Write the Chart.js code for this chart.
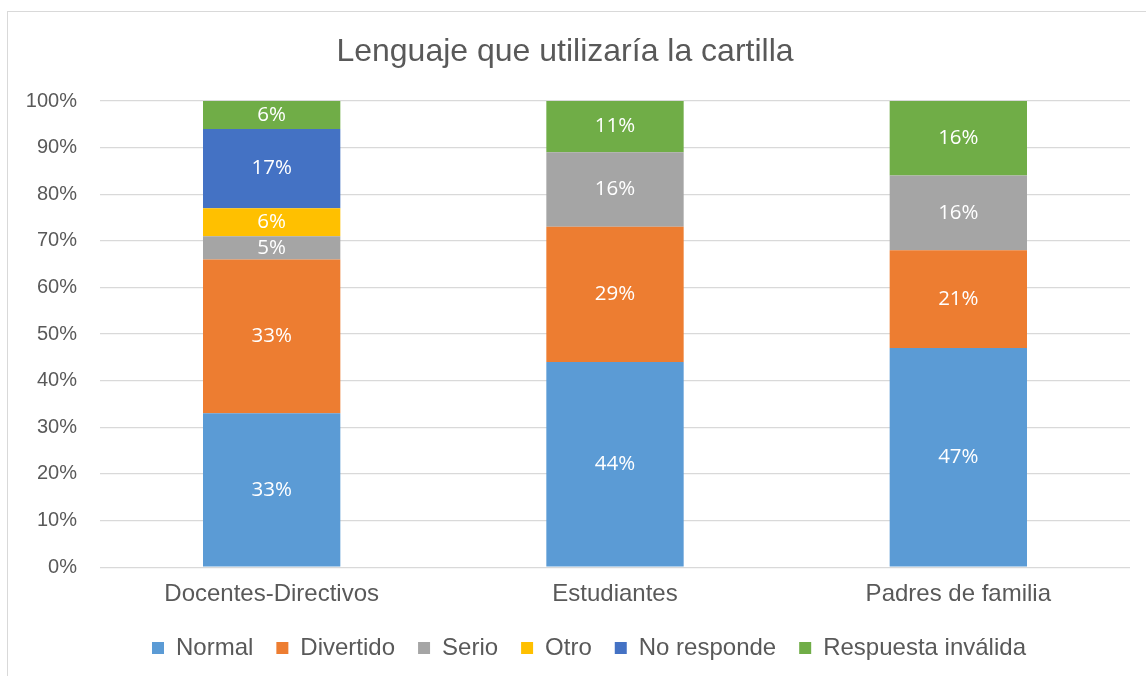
<!DOCTYPE html>
<html>
<head>
<meta charset="utf-8">
<script src="https://cdn.jsdelivr.net/npm/chart.js@4.4.1/dist/chart.umd.min.js"></script>
<style>
  html, body { margin: 0; padding: 0; background: #fff; }
  #frame { position: absolute; left: 7px; top: 11px; width: 1300px; height: 800px; border: 1px solid #d9d9d9; box-sizing: border-box; }
  #wrap { position: absolute; left: 0; top: 0; width: 1146px; height: 676px; }
</style>
</head>
<body>
<div id="frame"></div>
<div id="wrap"><canvas id="c" width="1146" height="676"></canvas></div>
<script>
const categories = ["Docentes-Directivos", "Estudiantes", "Padres de familia"];
const seriesNames = ["Normal", "Divertido", "Serio", "Otro", "No responde", "Respuesta inválida"];
const normal = [33, 44, 47];
const divertido = [33, 29, 21];
const serio = [5, 16, 16];
const otro = [6, 0, 0];
const noResponde = [17, 0, 0];
const invalida = [6, 11, 16];
const yTicks = [0, 10, 20, 30, 40, 50, 60, 70, 80, 90, 100];
const colors = ["#5B9BD5", "#ED7D31", "#A5A5A5", "#FFC000", "#4472C4", "#70AD47"];

const seriesValues = [normal, divertido, serio, otro, noResponde, invalida];

const labelPlugin = {
  id: 'segLabels',
  afterLayout(chart) {
    if (chart.legend) { chart.legend.left += 24; chart.legend.right += 24; }
  },
  afterDatasetsDraw(chart) {
    const ctx = chart.ctx;
    ctx.save();
    ctx.font = '20.5px "Open Sans", sans-serif';
    ctx.fillStyle = '#ffffff';
    ctx.textAlign = 'center';
    ctx.textBaseline = 'middle';
    chart.data.datasets.forEach((ds, i) => {
      const meta = chart.getDatasetMeta(i);
      meta.data.forEach((bar, j) => {
        const v = ds.data[j];
        if (!v) return;
        ctx.fillText(v + '%', bar.x, (bar.y + bar.base) / 2);
      });
    });
    ctx.restore();
  }
};

new Chart(document.getElementById('c'), {
  type: 'bar',
  data: {
    labels: categories,
    datasets: seriesNames.map((name, i) => ({
      label: name,
      data: seriesValues[i],
      backgroundColor: colors[i],
      borderWidth: 0,
      barPercentage: 0.4,
      categoryPercentage: 1.0
    }))
  },
  options: {
    responsive: false,
    animation: false,
    layout: { padding: { left: 0, right: 16, top: 0, bottom: 6 } },
    plugins: {
      title: {
        display: true,
        text: 'Lenguaje que utilizaría la cartilla',
        color: '#595959',
        font: { family: '"Liberation Sans", Arial, sans-serif', size: 32, weight: 'normal', lineHeight: 1.2 },
        padding: { top: 33, bottom: 29.6 }
      },
      legend: {
        position: 'bottom',
        labels: {
          color: '#595959',
          font: { family: '"Liberation Sans", Arial, sans-serif', size: 24 },
          boxWidth: 12,
          boxHeight: 12,
          padding: 23
        }
      },
      tooltip: { enabled: false }
    },
    scales: {
      x: {
        stacked: true,
        grid: { display: false, drawTicks: false },
        border: { display: false },
        afterFit(scale) { scale.height -= 9; },
        ticks: {
          color: '#595959',
          font: { family: '"Liberation Sans", Arial, sans-serif', size: 24 },
          padding: 13
        }
      },
      y: {
        stacked: true,
        min: 0,
        max: 100,
        afterFit(scale) { scale.width = 100; },
        afterBuildTicks(scale) { scale.ticks = yTicks.map(v => ({ value: v })); },
        grid: { color: '#d9d9d9', lineWidth: 1.3, drawTicks: false },
        border: { display: false },
        ticks: {
          color: '#595959',
          font: { family: '"Liberation Sans", Arial, sans-serif', size: 20 },
          padding: 23,
          callback: v => v + '%'
        }
      }
    }
  },
  plugins: [labelPlugin]
});
</script>
</body>
</html>
